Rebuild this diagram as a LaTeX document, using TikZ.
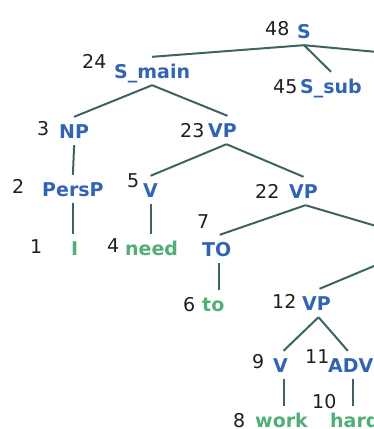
\documentclass[tikz,border=0pt]{standalone}
\usepackage{fontspec}
\setmainfont{DejaVu Sans}
\definecolor{catblue}{RGB}{50,100,180}
\definecolor{wordgreen}{RGB}{80,175,120}
\definecolor{numblack}{RGB}{30,30,30}
\definecolor{branchteal}{RGB}{60,100,100}
\begin{document}
\begin{tikzpicture}[x=1pt,y=-1pt,
  cat/.style={anchor=base west, inner xsep=0pt, inner ysep=7pt,
    text height=14pt, text depth=0pt,
    font=\fontsize{19}{22}\selectfont\bfseries, text=catblue},
  word/.style={cat, text=wordgreen},
  num/.style={anchor=base west, inner sep=0pt,
    font=\fontsize{19}{22}\selectfont, text=numblack},
  branch/.style={draw=branchteal, line width=2pt}]
\useasboundingbox (0,0) rectangle (374,429);
\clip (0,0) rectangle (374,429);

% tree nodes: index number followed by category or word
\node[num] (n48) at (265,35) {48};
\node[cat] (s) at (297,38) {S};
\node[num] (n24) at (82,68) {24};
\node[cat] (smain) at (114,78) {S\_main};
\node[num] (n45) at (273,93) {45};
\node[cat] (ssub) at (300,93) {S\_sub};
\node[num] (n3) at (37,135) {3};
\node[cat] (np) at (59,138) {NP};
\node[num] (n23) at (180,137) {23};
\node[cat] (vpa) at (208,137) {VP};
\node[num] (n2) at (12,193) {2};
\node[cat] (persp) at (42,196) {PersP};
\node[num] (n5) at (127,187) {5};
\node[cat] (va) at (143,197) {V};
\node[num] (n22) at (255,198) {22};
\node[cat] (vpb) at (289,198) {VP};
\node[num] (n1) at (30,253) {1};
\node[word] (wi) at (71,255) {I};
\node[num] (n4) at (107,252) {4};
\node[word] (wneed) at (125,255) {need};
\node[num] (n7) at (197,228) {7};
\node[cat] (to) at (202,256) {TO};
\node[num] (n6) at (183,311) {6};
\node[word] (wto) at (202,311) {to};
\node[num] (n12) at (272,308) {12};
\node[cat] (vpc) at (302,310) {VP};
\node[num] (n9) at (252,368) {9};
\node[cat] (vb) at (273,372) {V};
\node[num] (n11) at (305,363) {11};
\node[cat] (adv) at (328,372) {ADV};
\node[num] (n10) at (312,408) {10};
\node[num] (n8) at (233,427) {8};
\node[word] (wwork) at (255,427) {work};
\node[word] (whard) at (330,427) {hard};

% branches that run on past the right edge
\coordinate (sright) at (420,56);
\coordinate (vpdtop) at (410,236);
\coordinate (vpdbot) at (410,251);

% branches
\draw[branch] (s.south) -- (smain.north);
\draw[branch] (s.south) -- (sright);
\draw[branch] (s.south) -- (ssub.north);
\draw[branch] (smain.south) -- (np.north);
\draw[branch] (smain.south) -- ([xshift=5pt]vpa.north);
\draw[branch] (np.south) -- (persp.north);
\draw[branch] (persp.south) -- (persp.south |- wi.north);
\draw[branch] ([xshift=4pt]vpa.south) -- (va.north);
\draw[branch] ([xshift=4pt]vpa.south) -- (vpb.north);
\draw[branch] (va.south) -- (va.south |- wneed.north);
\draw[branch] ([xshift=2pt]vpb.south) -- ([xshift=3pt]to.north);
\draw[branch] ([xshift=2pt]vpb.south) -- (vpdtop);
\draw[branch] ([xshift=2pt]to.south) -- ([xshift=2pt]to.south |- wto.north);
\draw[branch] (vpdbot) -- ([xshift=3pt]vpc.north);
\draw[branch] ([xshift=2pt]vpc.south) -- ([xshift=3pt]vb.north);
\draw[branch] ([xshift=2pt]vpc.south) -- ([xshift=-3pt]adv.north);
\draw[branch] ([xshift=3pt]vb.south) -- ([xshift=3pt]vb.south |- wwork.north);
\draw[branch] ([xshift=2pt]adv.south) -- ([xshift=2pt]adv.south |- whard.north);
\end{tikzpicture}
\end{document}
